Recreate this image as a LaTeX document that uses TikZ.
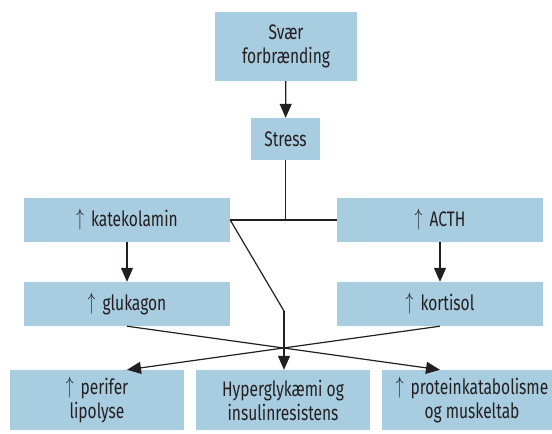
\documentclass[tikz,border=0pt]{standalone}
\usepackage{fontspec}
\setmainfont[FakeStretch=0.74]{Fira Sans}
\usetikzlibrary{arrows.meta}
\definecolor{boxblue}{HTML}{A8CCE0}
\definecolor{ink}{HTML}{231F20}
\newcommand{\upar}{\raisebox{0.5pt}{\scalebox{0.75}[1.15]{$\uparrow$}}\hspace{3pt}}
\begin{document}
\begin{tikzpicture}[x=1pt,y=-1pt,
  box/.style={fill=boxblue,draw=none,inner sep=0pt,align=center,text=ink,
    font=\fontsize{21}{24}\selectfont},
  conn/.style={draw=ink,line width=1.2pt},
  arr/.style={conn,-{Triangle[length=14pt,width=12pt]}}]
\useasboundingbox (0,0) rectangle (552,434);
\node[box,minimum width=142pt,minimum height=69pt] (svaer) at (286,46.5) {Svær\\forbrænding};
\node[box,minimum width=69pt,minimum height=42pt] (stress) at (285.5,139) {Stress};
\node[box,minimum width=206pt,minimum height=44pt] (kat) at (127,220) {\upar\ katekolamin};
\node[box,minimum width=206pt,minimum height=44pt] (acth) at (440,220) {\upar\ ACTH};
\node[box,minimum width=206pt,minimum height=44pt] (glu) at (127,304) {\upar\ glukagon};
\node[box,minimum width=206pt,minimum height=44pt] (kor) at (440,304) {\upar\ kortisol};
\node[box,minimum width=174pt,minimum height=60pt] (lip) at (97,400) {\upar\ perifer\\lipolyse};
\node[box,minimum width=174pt,minimum height=60pt] (hyp) at (283,400) {Hyperglykæmi og\\insulinresistens};
\node[box,minimum width=170pt,minimum height=60pt] (pro) at (467,400) {};
\node[text=ink,font=\fontsize{21}{24}\selectfont,align=center,inner sep=0pt] (protxt) at (472,400) {\upar\ proteinkatabolisme\\og muskeltab};
\coordinate (bend) at (284,311);
\draw[arr] (svaer) -- (stress);
\draw[conn] (stress.south) -- (stress.south |- kat.east);
\draw[conn] (kat.east) -- (acth.west);
\draw[conn] (kat.east) -- (bend);
\draw[arr] (bend) -- (bend |- hyp.north);
\draw[arr] (kat) -- (glu);
\draw[arr] (acth) -- (kor);
\draw[arr] (glu.south) -- (kor.south |- pro.north);
\draw[arr] (kor.south) -- (glu.south |- lip.north);
\end{tikzpicture}
\end{document}
